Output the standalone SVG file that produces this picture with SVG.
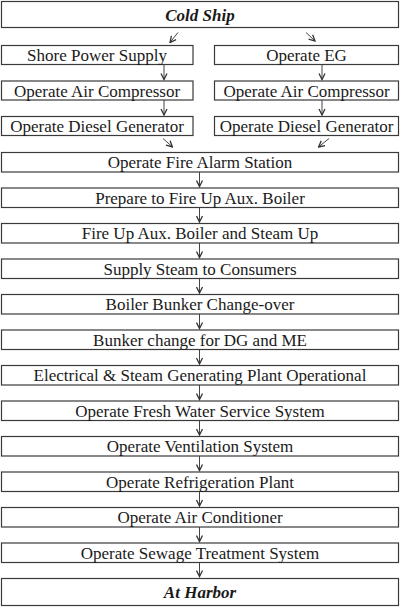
<svg xmlns="http://www.w3.org/2000/svg" width="400" height="607" viewBox="0 0 400 607">
<style>
.box{fill:#fff;stroke:#3a3a3a;stroke-width:1.2}
.t{font-family:"Liberation Serif","Times New Roman",serif;font-size:17px;fill:#1a1a1a;text-anchor:middle}
.bi{font-weight:bold;font-style:italic}
.c{stroke:#444;stroke-width:1;fill:none;marker-end:url(#ah)}
</style>
<defs>
<marker id="ah" viewBox="0 0 8 8" refX="7" refY="4" markerWidth="8" markerHeight="8" markerUnits="userSpaceOnUse" orient="auto">
<path d="M1,1 L7,4 L1,7" fill="none" stroke="#333" stroke-width="1.3"/>
</marker>
</defs>
<rect width="400" height="607" fill="#fff"/>
<g id="connectors">
<line class="c" x1="178" y1="32.5" x2="170" y2="42.5"/>
<line class="c" x1="306" y1="32.5" x2="315" y2="41"/>
<line class="c" x1="164" y1="64.5" x2="164" y2="79.5"/>
<line class="c" x1="164" y1="100" x2="164" y2="115"/>
<line class="c" x1="322" y1="64.5" x2="322" y2="79.5"/>
<line class="c" x1="322" y1="100" x2="322" y2="115"/>
<line class="c" x1="163" y1="138.5" x2="172.5" y2="147"/>
<line class="c" x1="329" y1="138.5" x2="318.5" y2="147"/>
<line class="c" x1="199.5" y1="172" x2="199.5" y2="186.5"/>
<line class="c" x1="199.5" y1="207.5" x2="199.5" y2="222"/>
<line class="c" x1="199.5" y1="243" x2="199.5" y2="257.5"/>
<line class="c" x1="199.5" y1="278.5" x2="199.5" y2="293"/>
<line class="c" x1="199.5" y1="314" x2="199.5" y2="328.5"/>
<line class="c" x1="199.5" y1="349.5" x2="199.5" y2="364"/>
<line class="c" x1="199.5" y1="385" x2="199.5" y2="399.5"/>
<line class="c" x1="199.5" y1="420.5" x2="199.5" y2="435"/>
<line class="c" x1="199.5" y1="456" x2="199.5" y2="470.5"/>
<line class="c" x1="199.5" y1="491.5" x2="199.5" y2="506"/>
<line class="c" x1="199.5" y1="527" x2="199.5" y2="541.5"/>
<line class="c" x1="199.5" y1="562.5" x2="199.5" y2="576.5"/>
</g>
<g id="n-cold-ship"><rect class="box" x="1.5" y="1.5" width="397" height="26"/><text class="t bi" x="200" y="20.5">Cold Ship</text></g>
<g id="n-shore-power"><rect class="box" x="1.5" y="45.5" width="191.5" height="19"/><text class="t" x="97" y="61">Shore Power Supply</text></g>
<g id="n-operate-eg"><rect class="box" x="214.5" y="45.5" width="184" height="19"/><text class="t" x="306.5" y="61">Operate EG</text></g>
<g id="n-air-comp-l"><rect class="box" x="1.5" y="81" width="191.5" height="19"/><text class="t" x="97" y="96.5">Operate Air Compressor</text></g>
<g id="n-air-comp-r"><rect class="box" x="214.5" y="81" width="184" height="19"/><text class="t" x="306.5" y="96.5">Operate Air Compressor</text></g>
<g id="n-dg-l"><rect class="box" x="1.5" y="116.5" width="191.5" height="19"/><text class="t" x="97" y="132">Operate Diesel Generator</text></g>
<g id="n-dg-r"><rect class="box" x="214.5" y="116.5" width="184" height="19"/><text class="t" x="306.5" y="132">Operate Diesel Generator</text></g>
<g id="n-fire-alarm"><rect class="box" x="1.5" y="152.5" width="397" height="19.5"/><text class="t" x="200" y="168">Operate Fire Alarm Station</text></g>
<g id="n-prepare"><rect class="box" x="1.5" y="188" width="397" height="19.5"/><text class="t" x="200" y="203.5">Prepare to Fire Up Aux. Boiler</text></g>
<g id="n-fire-up"><rect class="box" x="1.5" y="223.5" width="397" height="19.5"/><text class="t" x="200" y="239">Fire Up Aux. Boiler and Steam Up</text></g>
<g id="n-supply-steam"><rect class="box" x="1.5" y="259" width="397" height="19.5"/><text class="t" x="200" y="274.5">Supply Steam to Consumers</text></g>
<g id="n-boiler-bunker"><rect class="box" x="1.5" y="294.5" width="397" height="19.5"/><text class="t" x="200" y="310">Boiler Bunker Change-over</text></g>
<g id="n-bunker-dg-me"><rect class="box" x="1.5" y="330" width="397" height="19.5"/><text class="t" x="200" y="345.5">Bunker change for DG and ME</text></g>
<g id="n-electrical"><rect class="box" x="1.5" y="365.5" width="397" height="19.5"/><text class="t" x="200" y="381">Electrical &amp; Steam Generating Plant Operational</text></g>
<g id="n-fresh-water"><rect class="box" x="1.5" y="401" width="397" height="19.5"/><text class="t" x="200" y="416.5">Operate Fresh Water Service System</text></g>
<g id="n-ventilation"><rect class="box" x="1.5" y="436.5" width="397" height="19.5"/><text class="t" x="200" y="452">Operate Ventilation System</text></g>
<g id="n-refrigeration"><rect class="box" x="1.5" y="472" width="397" height="19.5"/><text class="t" x="200" y="487.5">Operate Refrigeration Plant</text></g>
<g id="n-air-conditioner"><rect class="box" x="1.5" y="507.5" width="397" height="19.5"/><text class="t" x="200" y="523">Operate Air Conditioner</text></g>
<g id="n-sewage"><rect class="box" x="1.5" y="543" width="397" height="19.5"/><text class="t" x="200" y="558.5">Operate Sewage Treatment System</text></g>
<g id="n-at-harbor"><rect class="box" x="1.5" y="578.5" width="397" height="27"/><text class="t bi" x="200" y="597.5">At Harbor</text></g>
</svg>
